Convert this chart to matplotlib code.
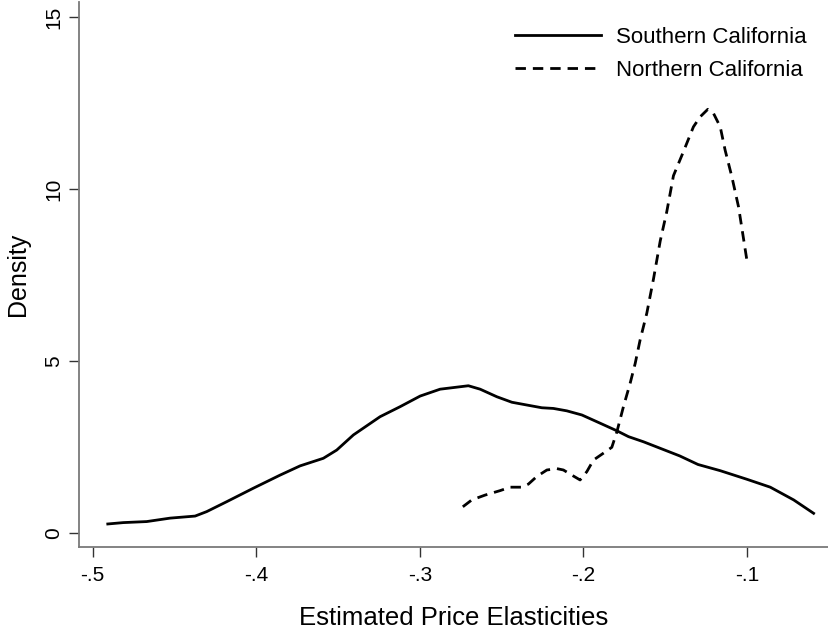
import matplotlib
matplotlib.use("Agg")
import matplotlib.pyplot as plt

plt.rcParams['font.family'] = ['Liberation Sans', 'DejaVu Sans']
plt.rcParams['lines.scale_dashes'] = False

# Southern California kernel density
south_x = [-0.4908, -0.4813, -0.4670, -0.4527, -0.4374, -0.4303, -0.4180, -0.4018,
           -0.3855, -0.3732, -0.3590, -0.3508, -0.3406, -0.3243, -0.3121, -0.2998,
           -0.2876, -0.2755, -0.2703, -0.2631, -0.2529, -0.2437, -0.2346, -0.2254,
           -0.2183, -0.2101, -0.2009, -0.1897, -0.1795, -0.1724, -0.1632, -0.1411,
           -0.1299, -0.1163, -0.1000, -0.0857, -0.0714, -0.0592]
south_y = [0.27, 0.31, 0.34, 0.44, 0.50, 0.63, 0.92, 1.31,
           1.69, 1.96, 2.18, 2.42, 2.86, 3.39, 3.68, 3.99,
           4.19, 4.26, 4.29, 4.19, 3.97, 3.81, 3.73, 3.65,
           3.63, 3.56, 3.44, 3.20, 2.98, 2.81, 2.66, 2.25,
           2.00, 1.82, 1.57, 1.34, 0.97, 0.58]

# Northern California kernel density
north_x = [-0.2737, -0.2682, -0.2601, -0.2509, -0.2448, -0.2376, -0.2336, -0.2285,
           -0.2223, -0.2162, -0.2122, -0.2070, -0.2020, -0.1979, -0.1938, -0.1877,
           -0.1826, -0.1795, -0.1755, -0.1714, -0.1683, -0.1653, -0.1612, -0.1571,
           -0.1530, -0.1490, -0.1449, -0.1388, -0.1327, -0.1286, -0.1239, -0.1204,
           -0.1163, -0.1133, -0.1092, -0.1051, -0.1000]
north_y = [0.77, 0.97, 1.11, 1.24, 1.34, 1.34, 1.43, 1.65,
           1.84, 1.88, 1.84, 1.69, 1.55, 1.79, 2.13, 2.33,
           2.50, 2.95, 3.68, 4.36, 4.94, 5.62, 6.40, 7.40,
           8.50, 9.35, 10.40, 11.10, 11.82, 12.11, 12.33, 12.21,
           11.82, 11.14, 10.37, 9.49, 7.94]

xticks = [-0.5, -0.4, -0.3, -0.2, -0.1]
xtick_labels = ['-.5', '-.4', '-.3', '-.2', '-.1']
yticks = [0, 5, 10, 15]

fig = plt.figure(figsize=(8.29, 6.31), dpi=100)
ax = fig.add_axes([0.0953, 0.1331, 0.9037, 0.8637])

ax.plot(south_x, south_y, color='black', lw=2.0, label='Southern California')
ax.plot(north_x, north_y, color='black', lw=2.0, dashes=(7.5, 5),
        label='Northern California')

ax.set_xlim(-0.5084, -0.0503)
ax.set_ylim(-0.40, 15.45)

ax.set_xticks(xticks)
ax.set_xticklabels(xtick_labels)
ax.set_yticks(yticks)
ax.set_yticklabels([str(v) for v in yticks], rotation=90, va='center')

for s in ['top', 'right']:
    ax.spines[s].set_visible(False)
for s in ['left', 'bottom']:
    ax.spines[s].set_color('#7a7a7a')
    ax.spines[s].set_linewidth(1.3)

ax.tick_params(axis='both', direction='out', length=7.5, width=1.0,
               color='#333333', labelsize=15)
ax.tick_params(axis='x', pad=6.5)
ax.tick_params(axis='y', pad=4)

ax.set_xlabel('Estimated Price Elasticities', fontsize=18.5)
ax.set_ylabel('Density', fontsize=18)
ax.xaxis.label.set_va('center')
ax.yaxis.label.set_va('center')
ax.xaxis.set_label_coords(0.5, -0.1303)
ax.yaxis.set_label_coords(-0.0814, 0.5)

ax.legend(loc='upper left', bbox_to_anchor=(515 / 829, 1 - 27 / 631),
          bbox_transform=fig.transFigure, frameon=False, fontsize=16,
          handlelength=3.85, handletextpad=0.7, borderpad=0, borderaxespad=0,
          labelspacing=0.55)

fig.savefig('out.png', dpi=100)
